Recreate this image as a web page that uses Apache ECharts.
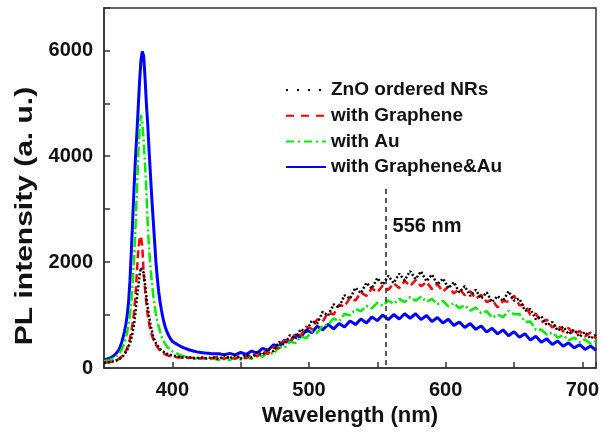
<!DOCTYPE html>
<html>
<head>
<meta charset="utf-8">
<script src="https://cdn.jsdelivr.net/npm/echarts@6/dist/echarts.min.js"></script>
<style>
  html, body { margin: 0; padding: 0; background: #fff; }
  #chart { width: 602px; height: 432px; }
</style>
</head>
<body>
<div id="chart"></div>
<script>
// Wavelength sampling (nm): finer steps across the UV exciton peak
var wavelengths = [
  350, 352, 354, 356, 358, 360,
  361, 362, 363, 364, 365, 366, 367, 368, 369, 370,
  371, 372, 373, 374, 375, 376, 377, 378, 379, 380,
  381, 382, 383, 384, 385, 386, 387, 388, 389, 390,
  391, 392, 393, 394, 395, 396, 397, 398, 399, 400,
  402, 404, 406, 408, 410, 412, 414, 416, 418, 420, 422, 424, 426, 428, 430,
  434, 438, 442, 446, 450, 454, 458, 462, 466, 470,
  474, 478, 482, 486, 490, 494, 498, 502, 506, 510,
  514, 518, 522, 526, 530, 534, 538, 542, 546, 550,
  554, 558, 562, 566, 570, 574, 578, 582, 586, 590,
  594, 598, 602, 606, 610, 614, 618, 622, 626, 630,
  634, 638, 642, 646, 650, 654, 658, 662, 666, 670,
  674, 678, 682, 686, 690, 694, 698, 702, 706, 710
];

// PL intensity (a. u.) for each sample
var znoNRs = [
  100, 106, 108, 120, 130, 152,
  165, 182, 198, 228, 252, 298, 342, 405, 468, 562,
  680, 825, 1045, 1300, 1520, 1750, 1895, 1920, 1800, 1580,
  1350, 1150, 970, 822, 700, 602, 528, 472, 428, 398,
  362, 345, 318, 302, 282, 276, 258, 250, 244, 232,
  228, 212, 215, 198, 206, 190, 204, 186, 196, 184, 198, 182, 194, 190, 196,
  165, 233, 175, 245, 175, 250, 195, 300, 245, 360,
  315, 490, 440, 620, 550, 735, 675, 895, 840, 1060,
  990, 1205, 1140, 1375, 1310, 1515, 1415, 1610, 1500, 1700,
  1575, 1740, 1605, 1780, 1655, 1830, 1680, 1825, 1640, 1765,
  1575, 1690, 1505, 1620, 1430, 1545, 1360, 1475, 1310, 1430,
  1245, 1360, 1265, 1450, 1275, 1310, 1080, 1115, 920, 980,
  805, 870, 705, 780, 640, 725, 590, 680, 555, 630
];

var withGraphene = [
  100, 104, 114, 120, 140, 158,
  175, 196, 214, 242, 274, 322, 378, 462, 558, 692,
  848, 1052, 1348, 1780, 2200, 2430, 2490, 2300, 1800, 1500,
  1220, 1000, 842, 718, 622, 548, 492, 438, 402, 362,
  338, 308, 292, 270, 260, 244, 238, 226, 224, 214,
  210, 200, 204, 194, 200, 190, 196, 186, 192, 184, 190, 184, 192, 186, 194,
  213, 170, 222, 171, 222, 182, 263, 218, 312, 267,
  390, 370, 520, 485, 650, 615, 780, 740, 920, 875,
  1050, 1010, 1195, 1160, 1330, 1275, 1430, 1360, 1505, 1430,
  1560, 1475, 1600, 1510, 1645, 1550, 1660, 1545, 1625, 1490,
  1580, 1445, 1540, 1410, 1495, 1375, 1450, 1310, 1385, 1245,
  1290, 1145, 1265, 1250, 1365, 1185, 1190, 1005, 1025, 860,
  915, 765, 820, 685, 755, 630, 700, 595, 670, 560
];

var withAu = [
  130, 142, 148, 172, 198, 242,
  268, 306, 348, 412, 478, 562, 678, 832, 998, 1252,
  1600, 2050, 2650, 3300, 3950, 4500, 4780, 4650, 4300, 3850,
  3350, 2700, 2250, 1900, 1620, 1380, 1180, 1020, 892, 780,
  692, 598, 542, 488, 446, 408, 382, 352, 336, 316,
  292, 262, 244, 222, 214, 196, 202, 180, 186, 172, 182, 168, 178, 170, 180,
  152, 192, 148, 200, 160, 213, 170, 246, 213, 300,
  265, 400, 375, 505, 470, 595, 565, 690, 665, 805,
  820, 935, 885, 1020, 995, 1115, 1070, 1175, 1125, 1230,
  1175, 1275, 1210, 1305, 1245, 1340, 1270, 1345, 1250, 1305,
  1205, 1270, 1165, 1225, 1130, 1185, 1085, 1140, 1035, 1075,
  950, 1005, 960, 1080, 1015, 1020, 875, 880, 720, 725,
  630, 670, 575, 620, 520, 575, 490, 540, 460, 510
];

var withGrapheneAu = [
  150, 166, 184, 212, 248, 312,
  350, 412, 488, 582, 688, 822, 1000, 1250, 1650, 2200,
  2800, 3400, 3950, 4400, 4900, 5400, 5800, 5980, 5900, 5500,
  5000, 4600, 4100, 3650, 3200, 2800, 2400, 2000, 1700, 1450,
  1250, 1100, 960, 850, 762, 690, 632, 580, 540, 502,
  470, 440, 410, 385, 365, 345, 330, 318, 305, 296, 290, 282, 280, 272, 270,
  268, 250, 277, 248, 295, 255, 320, 280, 370, 335,
  440, 400, 525, 490, 625, 585, 720, 665, 790, 720,
  825, 740, 840, 775, 890, 820, 925, 850, 965, 895,
  1000, 915, 1010, 925, 1025, 940, 1025, 915, 990, 880,
  955, 850, 920, 805, 870, 765, 840, 730, 795, 680,
  750, 645, 720, 610, 685, 580, 645, 530, 600, 485,
  550, 445, 510, 410, 475, 380, 440, 350, 415, 335
];

var seriesNames = ['ZnO ordered NRs', 'with Graphene', 'with Au', 'with Graphene&Au'];
var xTickLabels = [400, 500, 600, 700];
var yTickLabels = [0, 2000, 4000, 6000];
var xTitle = 'Wavelength (nm)';
var yTitle = 'PL intensity (a. u.)';
var markerWavelength = 556;
var markerLabel = '556 nm';

function pairs(values) {
  return wavelengths.map(function (w, i) { return [w, values[i]]; });
}

var FONT = 'Liberation Sans, Arial, Helvetica, sans-serif';
var chart = echarts.init(document.getElementById('chart'), null, { renderer: 'canvas' });

// legend keys show only the line pattern, no marker
var hiddenMarker = { color: 'rgba(0,0,0,0)', borderWidth: 0, borderColor: 'rgba(0,0,0,0)' };

var option = {
  backgroundColor: '#fff',
  animation: false,
  grid: {
    left: 104, right: 5, top: 8, bottom: 63,
    show: true, borderColor: '#333', borderWidth: 1.5, backgroundColor: 'transparent'
  },
  // vertical axis title, stretched along its length
  graphic: [{
    type: 'text', x: 25, y: 216, rotation: Math.PI / 2, scaleX: 1.25, scaleY: 1,
    style: {
      text: yTitle, font: 'bold 24px ' + FONT, fill: '#111',
      align: 'center', verticalAlign: 'middle'
    }
  }],
  legend: {
    orient: 'vertical',
    left: 285, top: 80, padding: 0,
    itemWidth: 40, itemHeight: 14, itemGap: 5.7,
    textStyle: { fontFamily: FONT, fontWeight: 'bold', fontSize: 19, color: '#111', lineHeight: 20 },
    data: [
      { name: seriesNames[0], itemStyle: hiddenMarker, lineStyle: { type: [2, 9], width: 2, color: '#000' } },
      { name: seriesNames[1], itemStyle: hiddenMarker, lineStyle: { type: [8, 7], width: 2, color: '#ff0000' } },
      { name: seriesNames[2], itemStyle: hiddenMarker, lineStyle: { type: [8, 4, 2, 4], width: 2, color: '#00ee00' } },
      { name: seriesNames[3], itemStyle: hiddenMarker, lineStyle: { type: 'solid', width: 2, color: '#0000ff' } }
    ]
  },
  xAxis: {
    type: 'value', min: 350, max: 710, interval: 50,
    name: xTitle, nameLocation: 'middle', nameGap: 37,
    nameTextStyle: { fontFamily: FONT, fontWeight: 'bold', fontSize: 22, color: '#111' },
    axisLine: { lineStyle: { color: '#333', width: 1.5 } },
    axisTick: { inside: true, length: 6, lineStyle: { color: '#333', width: 1.5 } },
    splitLine: { show: false },
    axisLabel: {
      margin: 12, fontFamily: FONT, fontWeight: 'bold', fontSize: 20, color: '#111',
      formatter: function (v) { return xTickLabels.indexOf(v) >= 0 ? String(v) : ''; }
    }
  },
  yAxis: {
    type: 'value', min: 0, max: 6800, interval: 1000,
    axisLine: { lineStyle: { color: '#333', width: 1.5 } },
    axisTick: { inside: true, length: 6, lineStyle: { color: '#333', width: 1.5 } },
    splitLine: { show: false },
    axisLabel: {
      margin: 11, fontFamily: FONT, fontWeight: 'bold', fontSize: 20, color: '#111',
      formatter: function (v) { return yTickLabels.indexOf(v) >= 0 ? String(v) : ''; }
    }
  },
  series: [
    {
      name: seriesNames[3], type: 'line', data: pairs(withGrapheneAu),
      symbol: 'none', showSymbol: false, z: 2,
      lineStyle: { color: '#0000ff', width: 3, type: 'solid' },
      itemStyle: { color: '#0000ff' }
    },
    {
      name: seriesNames[2], type: 'line', data: pairs(withAu),
      symbol: 'none', showSymbol: false, z: 3,
      lineStyle: { color: '#00ee00', width: 2.5, type: [10, 3, 2, 3] },
      itemStyle: { color: '#00ee00' }
    },
    {
      name: seriesNames[1], type: 'line', data: pairs(withGraphene),
      symbol: 'none', showSymbol: false, z: 4,
      lineStyle: { color: '#ff0000', width: 2.5, type: [8, 4] },
      itemStyle: { color: '#ff0000' }
    },
    {
      name: seriesNames[0], type: 'line', data: pairs(znoNRs),
      symbol: 'none', showSymbol: false, z: 5,
      lineStyle: { color: '#000', width: 2.5, type: [2, 2] },
      itemStyle: { color: '#000' },
      markLine: {
        silent: true, symbol: 'none', animation: false,
        lineStyle: { color: '#222', width: 1.5, type: [5, 4] },
        label: { show: false },
        data: [[{ coord: [markerWavelength, 3380] }, { coord: [markerWavelength, 0] }]]
      },
      markPoint: {
        silent: true, symbol: 'circle', symbolSize: 0,
        data: [{ coord: [markerWavelength, 2680] }],
        label: {
          show: true, position: 'right', distance: 7, formatter: markerLabel,
          fontFamily: FONT, fontWeight: 'bold', fontSize: 20, color: '#111'
        }
      }
    }
  ]
};
chart.setOption(option);
</script>
</body>
</html>
